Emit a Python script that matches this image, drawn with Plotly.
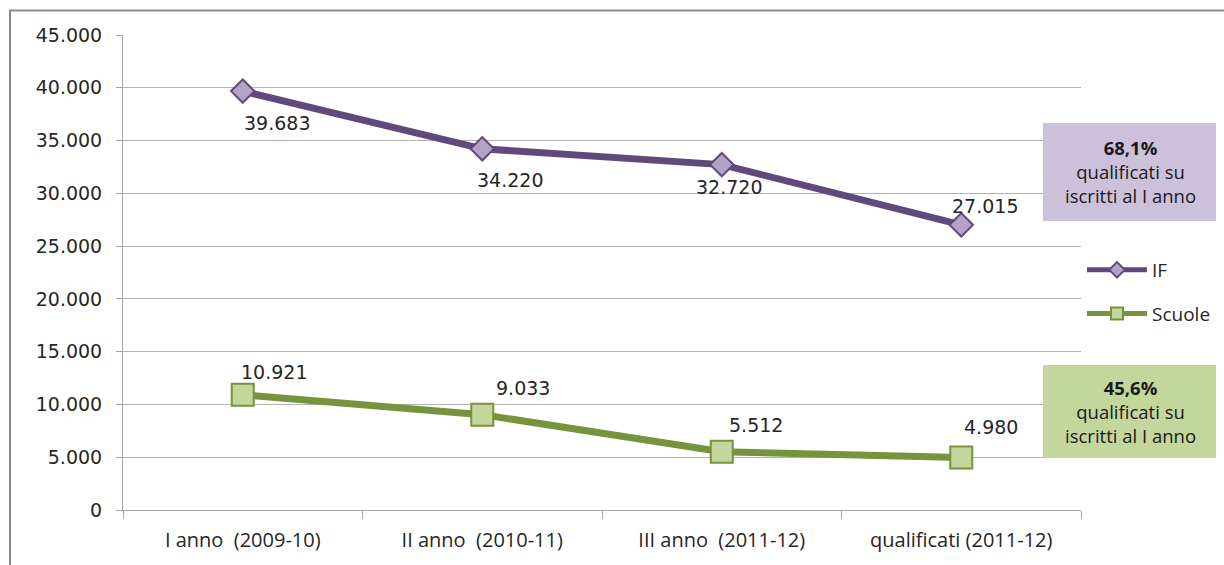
import plotly.graph_objects as go

categories = ["I anno  (2009-10)", "II anno  (2010-11)", "III anno  (2011-12)", "qualificati (2011-12)"]
if_values = [39683, 34220, 32720, 27015]
scuole_values = [10921, 9033, 5512, 4980]
if_labels = ["39.683", "34.220", "32.720", "27.015"]
scuole_labels = ["10.921", "9.033", "5.512", "4.980"]
y_ticks = [0, 5000, 10000, 15000, 20000, 25000, 30000, 35000, 40000, 45000]

PURPLE = "#604a7b"
PURPLE_FILL = "#b3a2c7"
GREEN = "#77933c"
GREEN_FILL = "#c3d69b"
NUMFONT = "DejaVu Sans"
TXTFONT = "Open Sans"

fig = go.Figure()
fig.add_trace(go.Scatter(
    x=categories, y=if_values, name="IF", mode="lines+markers", legendgroup="a",
    line=dict(color=PURPLE, width=7),
    marker=dict(symbol="diamond", size=18, color=PURPLE_FILL, line=dict(color=PURPLE, width=2)),
))
fig.add_trace(go.Scatter(
    x=categories, y=scuole_values, name="Scuole", mode="lines+markers", legendgroup="b",
    line=dict(color=GREEN, width=7),
    marker=dict(symbol="square", size=22, color=GREEN_FILL, line=dict(color=GREEN, width=2)),
))

# data labels
if_shifts = [(34, -32), (28, -31), (7, -22), (24, 19)]
sc_shifts = [(31, 23), (41, 27), (34, 27), (30, 30)]
for c, v, t, (dx, dy) in zip(categories, if_values, if_labels, if_shifts):
    fig.add_annotation(x=c, y=v, text=t, showarrow=False, xshift=dx, yshift=dy,
                       font=dict(family=NUMFONT, size=19, color="#262626"))
for c, v, t, (dx, dy) in zip(categories, scuole_values, scuole_labels, sc_shifts):
    fig.add_annotation(x=c, y=v, text=t, showarrow=False, xshift=dx, yshift=dy,
                       font=dict(family=NUMFONT, size=19, color="#262626"))

# side boxes
L, R, T, B = 123, 1081, 35, 510
W, H = R - L, B - T
def px(x):
    return (x - L) / W
def py(y):
    return (B - y) / H

fig.add_shape(type="rect", xref="paper", yref="paper", x0=px(1043), x1=px(1216), y0=py(221), y1=py(123),
              fillcolor="#ccc1da", line=dict(width=0), layer="above")
fig.add_shape(type="rect", xref="paper", yref="paper", x0=px(1043), x1=px(1216), y0=py(458), y1=py(365),
              fillcolor="#c3d69b", line=dict(width=0), layer="above")
fig.add_annotation(xref="paper", yref="paper", x=px(1130), y=py(171), xanchor="center", yanchor="middle",
                   showarrow=False,
                   text="<b>68,1%</b><br>qualificati su<br>iscritti al I anno",
                   font=dict(family=TXTFONT, size=18.5, color="#1a1a1a"), align="center")
fig.add_annotation(xref="paper", yref="paper", x=px(1130), y=py(411), xanchor="center", yanchor="middle",
                   showarrow=False,
                   text="<b>45,6%</b><br>qualificati su<br>iscritti al I anno",
                   font=dict(family=TXTFONT, size=18.5, color="#1a1a1a"), align="center")

# outer frame (left and top edges visible)
fig.add_shape(type="rect", xref="paper", yref="paper", x0=px(10), x1=px(1240), y0=py(580), y1=py(10.5),
              line=dict(color="#8c8c8c", width=2), fillcolor="rgba(0,0,0,0)")

fig.update_layout(
    width=1224, height=565,
    margin=dict(l=L, r=1224 - R, t=T, b=565 - B, autoexpand=False),
    paper_bgcolor="white", plot_bgcolor="white",
    separators=",.",
    showlegend=True,
    legend=dict(x=px(1082), y=py(251), xanchor="left", yanchor="top",
                font=dict(family=TXTFONT, size=19, color="#262626"),
                itemwidth=60, itemsizing="constant", tracegroupgap=16, bgcolor="rgba(0,0,0,0)"),
    xaxis=dict(type="category", range=[-0.5, 3.5], tickson="boundaries", ticks="outside",
               ticklen=8, tickcolor="#a6a6a6", showline=True, linecolor="#a6a6a6", linewidth=1,
               showgrid=False, ticklabelstandoff=12,
               tickfont=dict(family=TXTFONT, size=20, color="#262626")),
    yaxis=dict(range=[0, 45000], tickvals=y_ticks, tickformat=",.0f", ticks="outside",
               ticklen=6, tickcolor="#a6a6a6", showline=True, linecolor="#a6a6a6", linewidth=1,
               gridcolor="#b3b3b3", gridwidth=1, zeroline=False, ticklabelstandoff=10,
               tickfont=dict(family=NUMFONT, size=19, color="#262626")),
)

fig.write_html("out.html", config={"displayModeBar": False},
               post_script="document.body.style.margin='0px';")
